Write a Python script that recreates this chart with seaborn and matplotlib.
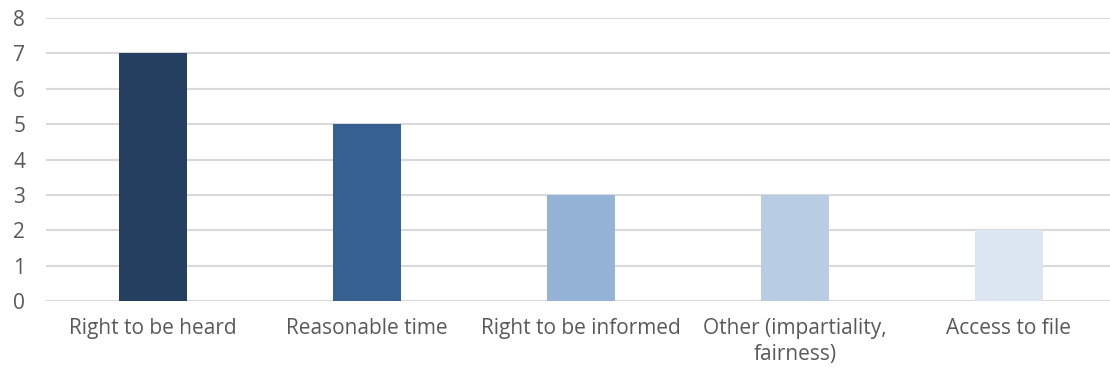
import matplotlib
matplotlib.use("Agg")
import matplotlib.pyplot as plt
import seaborn as sns
import pandas as pd

categories = ["Right to be heard", "Reasonable time", "Right to be informed",
              "Other (impartiality,\nfairness)", "Access to file"]
counts = [7, 5, 3, 3, 2]
bar_colors = ["#243F60", "#366092", "#95B3D7", "#B8CCE4", "#DCE6F2"]
y_ticks = [0, 1, 2, 3, 4, 5, 6, 7, 8]

sns.set_theme(style="white")
plt.rcParams["font.family"] = ["Open Sans", "DejaVu Sans"]

df = pd.DataFrame({"category": categories, "count": counts})

fig = plt.figure(figsize=(11.1, 3.74), dpi=100)
ax = fig.add_axes([46 / 1110, 73 / 374, 1064 / 1110, 283 / 374])

sns.barplot(data=df, x="category", y="count", hue="category",
            palette=bar_colors, width=0.32, legend=False, ax=ax,
            saturation=1, linewidth=0, zorder=3)

ax.set_ylim(0, 8)
ax.set_xlim(-0.5, 4.472)
ax.set_yticks(y_ticks)
ax.yaxis.grid(True, color="#D9D9D9", linewidth=1.5, zorder=0)
ax.set_axisbelow(True)
for s in ax.spines.values():
    s.set_visible(False)
ax.set_xlabel("")
ax.set_ylabel("")
ax.tick_params(axis="both", length=0, labelsize=15, colors="#595959")
ax.tick_params(axis="x", pad=12)
ax.tick_params(axis="y", pad=15)
for lbl in ax.get_xticklabels():
    lbl.set_linespacing(1.35)

fig.savefig("out.png", dpi=100)
